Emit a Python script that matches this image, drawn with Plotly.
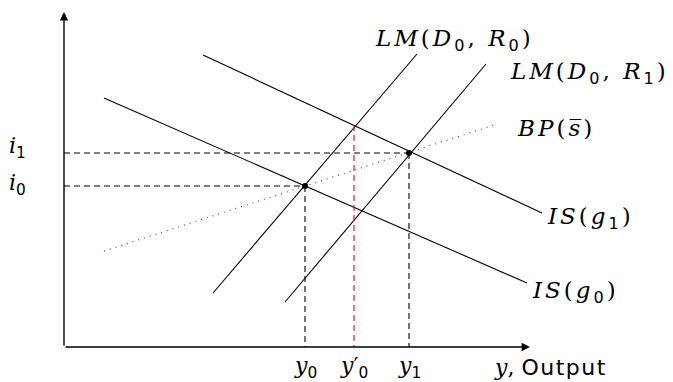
import plotly.graph_objects as go

# Economic coordinates (origin at axes corner)
is1_x = [139, 478]; is1_y = [292, 134]
is0_x = [40, 463];  is0_y = [249, 64]
lm0_x = [149, 353]; lm0_y = [54, 293]
lm1_x = [221, 422]; lm1_y = [45, 283]
bp_x = [40, 430];   bp_y = [96, 222]
eq_x = [241, 345];  eq_y = [161, 194]
y0p_x = 290; y0p_top = 222
x_axis_end = 466; y_axis_end = 335

SERIF = "DejaVu Serif"
fig = go.Figure()
line_black = dict(color="black", width=1.1)
for xs, ys in [(is1_x, is1_y), (is0_x, is0_y), (lm0_x, lm0_y), (lm1_x, lm1_y)]:
    fig.add_trace(go.Scatter(x=xs, y=ys, mode="lines", line=line_black, hoverinfo="skip"))
fig.add_trace(go.Scatter(x=bp_x, y=bp_y, mode="lines",
                         line=dict(color="#3050c0", width=1.2, dash="1px,5px"), hoverinfo="skip"))
dash_black = dict(color="black", width=1.1, dash="6px,4px")
for ex, ey in zip(eq_x, eq_y):
    fig.add_trace(go.Scatter(x=[0, ex], y=[ey, ey], mode="lines", line=dash_black, hoverinfo="skip"))
    fig.add_trace(go.Scatter(x=[ex, ex], y=[ey, 0], mode="lines", line=dash_black, hoverinfo="skip"))
fig.add_trace(go.Scatter(x=[y0p_x, y0p_x], y=[y0p_top, 0], mode="lines",
                         line=dict(color="red", width=1.1, dash="6px,4px"), hoverinfo="skip"))
fig.add_trace(go.Scatter(x=eq_x, y=eq_y, mode="markers",
                         marker=dict(color="black", size=6), hoverinfo="skip"))

# axes arrows
for tx, ty in [(x_axis_end, 0), (0, y_axis_end)]:
    fig.add_annotation(x=tx, y=ty, ax=0, ay=0, axref="x", ayref="y", xref="x", yref="y",
                       text="", showarrow=True, arrowhead=2, arrowsize=1.2, arrowwidth=1.4,
                       arrowcolor="black")

def lab(x, y, text, xanchor="left", size=23):
    fig.add_annotation(x=x, y=y, xref="x", yref="y", text=text, showarrow=False,
                       xanchor=xanchor, yanchor="middle",
                       font=dict(family=SERIF, size=size, color="black"))

LS = "letter-spacing:3px"
sub = lambda s: f"<sub><span style='font-family:DejaVu Sans;font-style:normal'>{s}</span></sub>"
def m(s):
    return f"<span style='{LS}'>{s}</span>"
lab(309, 307, m(f"<i>LM</i>(<i>D</i>{sub('0')}, <i>R</i>{sub('0')})"))
lab(444, 274, m(f"<i>LM</i>(<i>D</i>{sub('0')}, <i>R</i>{sub('1')})"))
lab(451, 219, m("<i>BP</i>(<i>s̅</i>)"))
lab(481, 129, m(f"<i>IS</i>(<i>g</i>{sub('1')})"))
lab(466, 55, m(f"<i>IS</i>(<i>g</i>{sub('0')})"))
lab(-57, 200, f"<i>i</i>{sub('1')}", "left", 22)
lab(-57, 163, f"<i>i</i>{sub('0')}", "left", 22)
lab(241, -20, f"<i>y</i>{sub('0')}", "center", 22)
lab(290, -20, f"<i>y</i>′{sub('0')}", "center", 22)
lab(345, -20, f"<i>y</i>{sub('1')}", "center", 22)
lab(428, -20, "<i>y</i>, <span style='font-family:DejaVu Sans;letter-spacing:1.5px'>Output</span>", "left", 22)

fig.update_layout(width=673, height=382, margin=dict(l=0, r=0, t=0, b=0),
                  plot_bgcolor="white", paper_bgcolor="white", showlegend=False,
                  xaxis=dict(range=[-64, 609], visible=False, fixedrange=True),
                  yaxis=dict(range=[-35, 347], visible=False, fixedrange=True))
fig.write_html("out.html", post_script="document.body.style.margin='0';",
               config={"displayModeBar": False})
